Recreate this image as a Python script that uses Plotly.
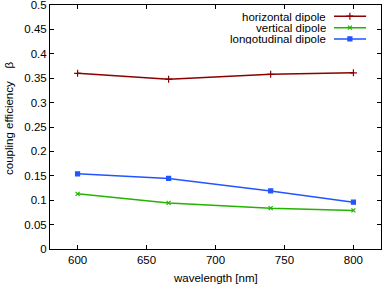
import plotly.graph_objects as go

wavelength = [600, 666, 740, 800]
horizontal = [0.360, 0.348, 0.358, 0.361]
vertical = [0.113, 0.0945, 0.0836, 0.079]
longitudinal = [0.154, 0.1446, 0.119, 0.096]

names = ["horizontal dipole", "vertical dipole", "longotudinal dipole"]
colors = ["#8b0000", "#22b400", "#2255ff"]
symbols = ["cross-thin", "x-thin", "square"]
sizes = [5, 4, 4]
series = [horizontal, vertical, longitudinal]

xticks = [600, 650, 700, 750, 800]
yticks = [0, 0.05, 0.1, 0.15, 0.2, 0.25, 0.3, 0.35, 0.4, 0.45, 0.5]
yticktext = ["0", "0.05", "0.1", "0.15", "0.2", "0.25", "0.3", "0.35", "0.4", "0.45", "0.5"]

FONT = "Liberation Sans"
FS = 11.5

fig = go.Figure()
for s, n, c, sym, sz in zip(series, names, colors, symbols, sizes):
    fig.add_trace(go.Scatter(
        x=wavelength, y=s, mode="lines+markers", name=n,
        line=dict(color=c, width=1.5),
        marker=dict(symbol=sym, size=sz, color=c, line=dict(color=c, width=1.2)),
        showlegend=False, hoverinfo="skip",
    ))

# gnuplot-style key: text right-aligned, sample to the right
leg_y = [0.954, 0.907, 0.861]
for n, c, sym, sz, yy in zip(names, colors, symbols, sizes, leg_y):
    fig.add_annotation(x=0.840, y=yy, xref="paper", yref="paper", text=n,
                       showarrow=False, xanchor="right", yanchor="middle", height=11,
                       font=dict(family=FONT, size=FS, color="black"))
    fig.add_shape(type="line", xref="paper", yref="paper",
                  x0=0.858, x1=0.955, y0=yy, y1=yy, line=dict(color=c, width=1.5))
    fig.add_trace(go.Scatter(x=[0.906], y=[yy], xaxis="x2", yaxis="y2", mode="markers",
                             marker=dict(symbol=sym, size=sz, color=c, line=dict(color=c, width=1.2)),
                             showlegend=False, hoverinfo="skip"))

axis_common = dict(showgrid=False, zeroline=False, showline=True, linecolor="black",
                   linewidth=1, mirror="ticks", ticks="inside", ticklen=4,
                   tickcolor="black", automargin=False, ticklabeloverflow="allow",
                   tickfont=dict(family=FONT, size=FS, color="black"))

fig.update_layout(
    width=382, height=286,
    margin=dict(l=50, r=1, t=5, b=37, autoexpand=False),
    paper_bgcolor="white", plot_bgcolor="white",
    xaxis=dict(range=[580, 820], tickvals=xticks, **axis_common),
    yaxis=dict(range=[0, 0.5], tickvals=yticks, ticktext=yticktext, **axis_common),
    xaxis2=dict(range=[0, 1], overlaying="x", visible=False, automargin=False),
    yaxis2=dict(range=[0, 1], overlaying="y", visible=False, automargin=False),
    showlegend=False,
)
fig.add_annotation(x=0.5, y=0, xref="paper", yref="paper", text="wavelength [nm]",
                   showarrow=False, xanchor="center", yanchor="middle", yshift=-29,
                   font=dict(family=FONT, size=FS, color="black"))
fig.add_annotation(x=0, y=0, xref="paper", yref="paper",
                   text="coupling efficiency    β", textangle=-90, showarrow=False,
                   xanchor="center", yanchor="middle", xshift=-41, yshift=131,
                   font=dict(family=FONT, size=FS, color="black"))

fig.write_html("out.html", config={"displayModeBar": False, "staticPlot": True},
               post_script="document.body.style.margin='0';document.body.style.overflow='hidden';")
